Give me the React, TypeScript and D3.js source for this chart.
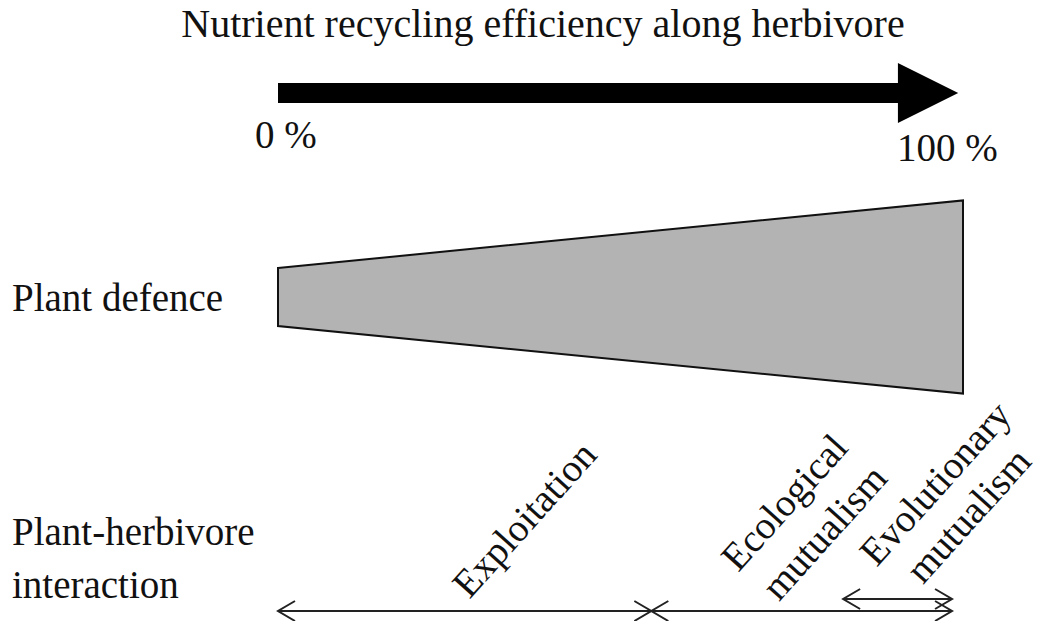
import React from 'react';
// @ts-ignore
import * as d3 from "d3";

// efficiency axis (percent of nutrient recycling)
const effTicks = [0, 100];
const effTickLabels = ["0 %", "100 %"];

// plant defence wedge: relative thickness at each end
const defenceEff = [0, 100];
const defenceLevel = [1, 3.33];

// plant-herbivore interaction ranges (percent)
const interactionLines = [["Exploitation"], ["Ecological", "mutualism"], ["Evolutionary", "mutualism"]];
const interactionStart = [0, 54.5, 82.5];
const interactionEnd = [54.5, 98.4, 98.4];

const title = "Nutrient recycling efficiency along herbivore";
const rowLabels = [["Plant defence"], ["Plant-herbivore", "interaction"]];

class App extends React.Component {

    componentDidMount(): void {
        const width = 1041;
        const height = 621;
        const font = "'Liberation Serif', 'Times New Roman', serif";

        document.body.style.margin = "0";

        const svg = d3.select("#diagram")
            .append("svg")
            .attr("width", width)
            .attr("height", height)
            .style("display", "block")
            .style("background", "#fff");

        const x = d3.scaleLinear().domain([0, 100]).range([278, 963]);
        // half thickness of the wedge
        const t = d3.scaleLinear().domain([0, 1]).range([0, 29]);
        const wedgeMid = 297;

        //title
        svg.append("text")
            .attr("x", 543)
            .attr("y", 37)
            .attr("text-anchor", "middle")
            .style("font-family", font)
            .style("font-size", "40px")
            .attr("fill", "#111")
            .text(title);

        //big arrow
        const shaftY = 93, shaftHalf = 10, headHalf = 30;
        const headStart = x(90.5), tip = x(99.3);
        const arrowPath = d3.path();
        arrowPath.moveTo(x(effTicks[0]), shaftY - shaftHalf);
        arrowPath.lineTo(headStart, shaftY - shaftHalf);
        arrowPath.lineTo(headStart, shaftY - headHalf);
        arrowPath.lineTo(tip, shaftY);
        arrowPath.lineTo(headStart, shaftY + headHalf);
        arrowPath.lineTo(headStart, shaftY + shaftHalf);
        arrowPath.lineTo(x(effTicks[0]), shaftY + shaftHalf);
        arrowPath.closePath();
        svg.append("path")
            .attr("d", arrowPath.toString())
            .attr("fill", "#000");

        //tick labels
        const tickDx = [-23, -66];
        const tickY = [148, 161];
        effTicks.forEach((v, i) => {
            svg.append("text")
                .attr("x", x(v) + tickDx[i])
                .attr("y", tickY[i])
                .style("font-family", font)
                .style("font-size", "39px")
                .attr("fill", "#111")
                .text(effTickLabels[i]);
        });

        //defence wedge
        const top = defenceEff.map((e, i) => [x(e), wedgeMid - t(defenceLevel[i])]);
        const bottom = defenceEff.map((e, i) => [x(e), wedgeMid + t(defenceLevel[i])]).reverse();
        svg.append("path")
            .attr("d", d3.line()([...top, ...bottom]) + "Z")
            .attr("fill", "#b3b3b3")
            .attr("stroke", "#111")
            .attr("stroke-width", 2)
            .attr("stroke-linejoin", "miter");

        //row labels
        const rowY = [[311], [545, 598]];
        rowLabels.forEach((lines, i) => {
            lines.forEach((l, j) => {
                svg.append("text")
                    .attr("x", 12)
                    .attr("y", rowY[i][j])
                    .style("font-family", font)
                    .style("font-size", "39px")
                    .attr("fill", "#111")
                    .text(l);
            });
        });

        //interaction arrows
        const lineY = [611, 611, 599];
        const headLen = 17, headH = 10;
        interactionStart.forEach((s, i) => {
            const x0 = x(s), x1 = x(interactionEnd[i]), y = lineY[i];
            const p = d3.path();
            p.moveTo(x0, y);
            p.lineTo(x1, y);
            p.moveTo(x0 + headLen, y - headH);
            p.lineTo(x0, y);
            p.lineTo(x0 + headLen, y + headH);
            p.moveTo(x1 - headLen, y - headH);
            p.lineTo(x1, y);
            p.lineTo(x1 - headLen, y + headH);
            svg.append("path")
                .attr("d", p.toString())
                .attr("fill", "none")
                .attr("stroke", "#222")
                .attr("stroke-width", 2);
        });

        //rotated interaction labels, baseline centres per line
        const labelPos = [
            [[534, 528]],
            [[794, 511], [834, 541]],
            [[945, 492], [978, 524]]
        ];
        interactionLines.forEach((lines, i) => {
            lines.forEach((l, j) => {
                const [cx, cy] = labelPos[i][j];
                svg.append("text")
                    .attr("transform", `translate(${cx},${cy}) rotate(-48)`)
                    .attr("text-anchor", "middle")
                    .style("font-family", font)
                    .style("font-size", "39px")
                    .attr("fill", "#111")
                    .text(l);
            });
        });
    }

    render() {
        return (
            <div id={"diagram"}></div>
        );
    }
}

export default App;
